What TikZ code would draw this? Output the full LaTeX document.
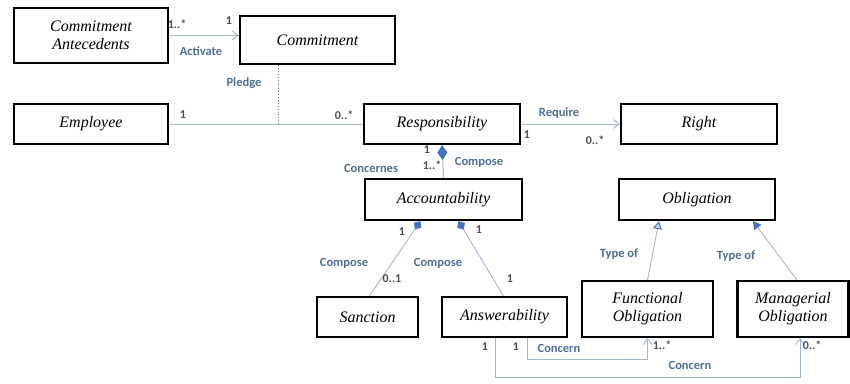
\documentclass[tikz,border=0pt]{standalone}
\usepackage{fontspec}
\setmainfont{Liberation Serif}
\newfontfamily\lblfont{Carlito}
\usetikzlibrary{arrows.meta,calc}
\definecolor{lnc}{HTML}{A3B6CC}
\definecolor{lblc}{HTML}{4E6E98}
\definecolor{mulc}{HTML}{505050}
\definecolor{dblue}{HTML}{4472C4}
\tikzset{
  cls/.style={draw=black,line width=2.2pt,fill=white,font=\fontsize{16}{18}\selectfont\itshape,align=center,inner sep=0pt},
  conn/.style={draw=lnc,line width=0.9pt},
  lbl/.style={font=\lblfont\bfseries\fontsize{12.5}{14}\selectfont,text=lblc,inner sep=0pt},
  mul/.style={font=\lblfont\bfseries\fontsize{12}{14}\selectfont,text=mulc,inner sep=0pt},
  openarr/.style={-{Straight Barb[length=6pt,width=9pt,line width=0.9pt]}},
  tri/.style={-{Triangle[open,length=8pt,width=9pt,fill=dblue!35,color=dblue]}},
  trif/.style={-{Triangle[length=8pt,width=9pt,color=dblue]}},
}
\begin{document}
\begin{tikzpicture}[x=1pt,y=-1pt]
\useasboundingbox (0,0) rectangle (850,383);
% classes
\node[cls,minimum width=154,minimum height=55] (ca) at (91,35.5) {Commitment\\Antecedents};
\node[cls,minimum width=155,minimum height=48] (commit) at (317.5,40) {Commitment};
\node[cls,minimum width=154,minimum height=40] (emp) at (91,124) {Employee};
\node[cls,minimum width=156,minimum height=40] (resp) at (442,124) {Responsibility};
\node[cls,minimum width=156,minimum height=40] (right) at (699,124) {Right};
\node[cls,minimum width=157,minimum height=41] (acc) at (443.5,199.5) {Accountability};
\node[cls,minimum width=156,minimum height=41] (obl) at (697,199.5) {Obligation};
\node[cls,minimum width=101,minimum height=40] (sanc) at (367.5,317) {Sanction};
\node[cls,minimum width=125,minimum height=40] (answ) at (504.5,317) {Answerability};
\node[cls,minimum width=131,minimum height=56] (func) at (647.5,309) {Functional\\Obligation};
\node[cls,minimum width=111,minimum height=56] (mana) at (793,309) {Managerial\\Obligation};
% Activate
\draw[conn,openarr] (ca.east) -- (ca.east -| commit.west);
\node[mul] (m1) at (177,24) {1..*};
\node[mul] (m2) at (229,21) {1};
\node[lbl] (l1) at (201,51) {Activate};
% Employee - Responsibility
\draw[conn] (emp.east) -- (resp.west);
\node[mul] (m3) at (183,115) {1};
\node[mul] (m4) at (344,115) {0..*};
% Pledge
\coordinate (pj) at ($(commit.south)+(-39.5,0)$);
\draw[conn,dotted,draw=gray] (pj) -- (pj |- emp.east);
\node[lbl] (l2) at (244,83) {Pledge};
% Require
\draw[conn,openarr] (resp.east) -- (right.west);
\node[lbl] (l3) at (559,113) {Require};
\node[mul] (m5) at (527,135) {1};
\node[mul] (m6) at (595,140) {0..*};
% Responsibility - Accountability composition
\draw[conn,{Diamond[length=15pt,width=10pt,color=dblue]}-] (resp.south) -- (acc.north);
\node[mul] (m7) at (427,150) {1};
\node[mul] (m8) at (432,165) {1..*};
\node[lbl] (l4) at (371,168) {Concernes};
\node[lbl] (l5) at (479,162) {Compose};
% Accountability - Sanction
\draw[conn,{Diamond[length=10pt,width=9pt,color=dblue]}-] ([xshift=-23pt]acc.south) -- ([xshift=2pt]sanc.north);
\node[mul] (m9) at (402,232) {1};
\node[mul] (m10) at (392,279) {0..1};
\node[lbl] (l6) at (344,263) {Compose};
% Accountability - Answerability
\draw[conn,{Diamond[length=10pt,width=9pt,color=dblue]}-] ([xshift=15pt]acc.south) -- ([xshift=-1pt]answ.north);
\node[mul] (m11) at (479,230) {1};
\node[mul] (m12) at (510,279) {1};
\node[lbl] (l7) at (438,263) {Compose};
% Type of
\draw[conn,tri] (func.north) -- ([xshift=-38pt]obl.south);
\node[lbl] (l8) at (619,254) {Type of};
\draw[conn,trif] ([xshift=4pt]mana.north) -- ([xshift=56pt]obl.south);
\node[lbl] (l9) at (736,256) {Type of};
% Concern lines
\coordinate (c1a) at ($(answ.south)+(22.5,0)$);
\draw[conn,openarr] (c1a) -- ++(0,21) -| (func.south);
\node[mul] (m13) at (516,347) {1};
\node[lbl] (l10) at (559,348) {Concern};
\node[mul] (m14) at (662,345) {1..*};
\coordinate (c2a) at ($(answ.south)+(-9.5,0)$);
\draw[conn,openarr] (c2a) -- ++(0,39) -| ([xshift=7pt]mana.south);
\node[mul] (m15) at (485,347) {1};
\node[lbl] (l11) at (690,365) {Concern};
\node[mul] (m16) at (812,345) {0..*};
\end{tikzpicture}
\end{document}
